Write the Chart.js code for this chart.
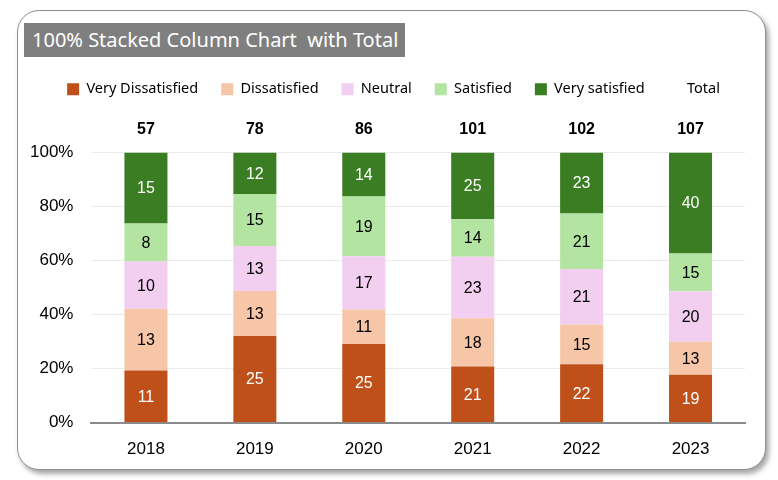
<!DOCTYPE html>
<html>
<head>
<meta charset="utf-8">
<script src="https://cdn.jsdelivr.net/npm/chart.js@4.4.1/dist/chart.umd.min.js"></script>
<style>
  html, body { margin: 0; padding: 0; background: #ffffff; }
  #wrap { position: relative; width: 778px; height: 480px; overflow: hidden; }
  #card {
    position: absolute; left: 17px; top: 10px; width: 747px; height: 458px;
    border: 1.5px solid #8f8f8f; border-radius: 22px; background: #ffffff;
    box-shadow: 3px 4px 5px rgba(0,0,0,0.35);
  }
  #title {
    position: absolute; left: 24px; top: 23px; width: 381px; height: 34px;
    background: #7f7f7f; color: #ffffff; font-family: "Noto Sans", sans-serif;
    font-size: 20px; line-height: 34px; padding-left: 8px; box-sizing: border-box;
    white-space: pre;
  }
  canvas { position: absolute; left: 0; top: 0; }
</style>
</head>
<body>
<div id="wrap">
  <div id="card"></div>
  <div id="title">100% Stacked Column Chart  with Total</div>
  <canvas id="chart" width="778" height="480"></canvas>
</div>
<script>
// Categories and raw counts per response
const years = ['2018', '2019', '2020', '2021', '2022', '2023'];
const veryDissatisfied = [11, 25, 25, 21, 22, 19];
const dissatisfied = [13, 13, 11, 18, 15, 13];
const neutral = [10, 13, 17, 23, 21, 20];
const satisfied = [8, 15, 19, 14, 21, 15];
const verySatisfied = [15, 12, 14, 25, 23, 40];
const yTicks = [0, 20, 40, 60, 80, 100];

const totals = years.map((y, i) =>
  veryDissatisfied[i] + dissatisfied[i] + neutral[i] + satisfied[i] + verySatisfied[i]);

function toPct(arr) {
  return arr.map((v, i) => v / totals[i] * 100);
}

const series = [
  { label: 'Very Dissatisfied', counts: veryDissatisfied, color: '#C0501A', text: '#ffffff' },
  { label: 'Dissatisfied', counts: dissatisfied, color: '#F7C6A9', text: '#000000' },
  { label: 'Neutral', counts: neutral, color: '#F2CEF0', text: '#000000' },
  { label: 'Satisfied', counts: satisfied, color: '#B4E4A2', text: '#000000' },
  { label: 'Very satisfied', counts: verySatisfied, color: '#3B7D23', text: '#ffffff' }
];

const datasets = series.map(s => ({
  label: s.label,
  data: toPct(s.counts),
  counts: s.counts,
  textColor: s.text,
  backgroundColor: s.color,
  borderWidth: 0,
  barPercentage: 0.395,
  categoryPercentage: 1.0
}));

// Legend-only entry for the totals
datasets.push({
  label: 'Total',
  data: years.map(() => 0),
  backgroundColor: 'rgba(0,0,0,0)',
  borderWidth: 0,
  isTotal: true
});

// Draw counts in segments and totals above each column
const labelPlugin = {
  id: 'segmentLabels',
  afterDatasetsDraw(chart) {
    const ctx = chart.ctx;
    ctx.save();
    ctx.textAlign = 'center';
    ctx.textBaseline = 'middle';
    chart.data.datasets.forEach((ds, di) => {
      if (ds.isTotal) return;
      const meta = chart.getDatasetMeta(di);
      ctx.font = '16px "Liberation Sans", Arial, sans-serif';
      ctx.fillStyle = ds.textColor;
      meta.data.forEach((bar, i) => {
        const yMid = (bar.y + bar.base) / 2;
        ctx.fillText(ds.counts[i], bar.x, yMid + 1);
      });
    });
    const yScale = chart.scales.y;
    const xScale = chart.scales.x;
    ctx.font = 'bold 16px "Liberation Sans", Arial, sans-serif';
    ctx.fillStyle = '#000000';
    totals.forEach((t, i) => {
      ctx.fillText(t, xScale.getPixelForValue(i), yScale.getPixelForValue(100) - 23);
    });
    ctx.restore();
  }
};

// Extra room under the legend, and nudge it right
const legendGap = {
  id: 'legendGap',
  beforeInit(chart) {
    const fit = chart.legend.fit;
    chart.legend.fit = function () {
      fit.bind(chart.legend)();
      this.height += 46;
    };
  },
  afterLayout(chart) {
    chart.legend.left += 15;
    chart.legend.right += 15;
  }
};

new Chart(document.getElementById('chart').getContext('2d'), {
  type: 'bar',
  data: { labels: years, datasets: datasets },
  options: {
    responsive: false,
    animation: false,
    layout: { padding: { top: 59, left: 12, right: 33, bottom: 11 } },
    plugins: {
      legend: {
        position: 'top',
        labels: {
          boxWidth: 12,
          boxHeight: 12,
          padding: 23,
          color: '#000000',
          font: { family: '"Noto Sans", sans-serif', size: 14.5 }
        }
      },
      tooltip: { enabled: false },
      title: { display: false }
    },
    scales: {
      x: {
        stacked: true,
        grid: { display: false },
        border: { display: true, color: '#8a8a8a', width: 2 },
        ticks: {
          color: '#000000',
          padding: 9,
          font: { family: '"Liberation Sans", Arial, sans-serif', size: 17 }
        }
      },
      y: {
        stacked: true,
        min: 0,
        max: 100,
        afterBuildTicks(axis) {
          axis.ticks = yTicks.map(v => ({ value: v }));
        },
        grid: { color: '#ebebeb', lineWidth: 1, drawTicks: false },
        border: { display: false },
        ticks: {
          color: '#000000',
          padding: 18,
          font: { family: '"Liberation Sans", Arial, sans-serif', size: 17 },
          callback: v => v + '%'
        }
      }
    }
  },
  plugins: [labelPlugin, legendGap]
});
</script>
</body>
</html>
